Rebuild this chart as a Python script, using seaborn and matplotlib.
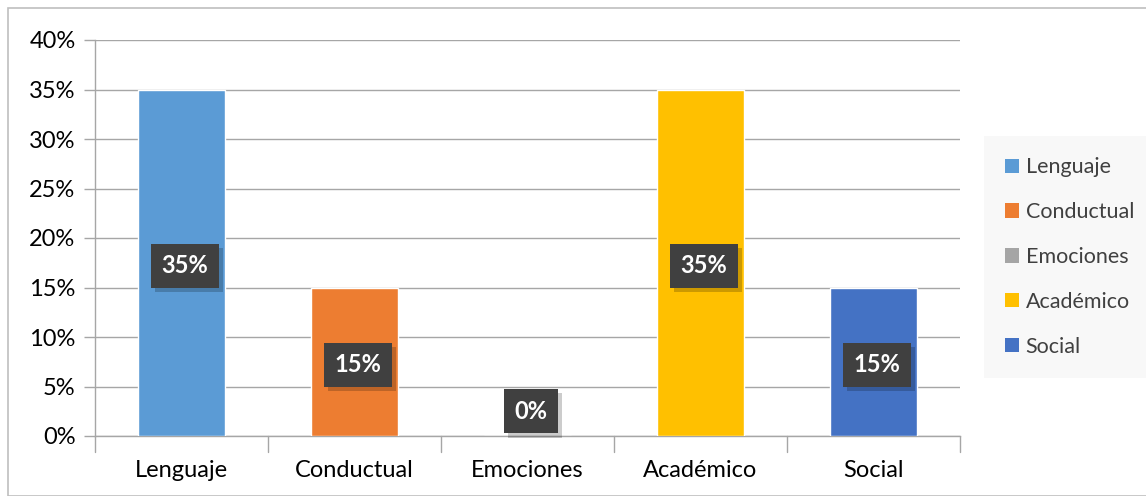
import numpy as np
import pandas as pd
import matplotlib.pyplot as plt
import matplotlib.patheffects as pe
import seaborn as sns
from matplotlib.patches import Rectangle, Patch

sns.set_theme(style="white")
plt.rcParams['font.family'] = ['Lato', 'DejaVu Sans']

categories = ['Lenguaje', 'Conductual', 'Emociones', 'Académico', 'Social']
values = [0.35, 0.15, 0.0, 0.35, 0.15]
colors = ['#5B9BD5', '#ED7D31', '#A5A5A5', '#FFC000', '#4472C4']
y_ticks = [0, 0.05, 0.10, 0.15, 0.20, 0.25, 0.30, 0.35, 0.40]

df = pd.DataFrame({'Categoria': categories, 'Valor': values})

fig = plt.figure(figsize=(11.46, 4.96), dpi=100)
ax = fig.add_axes([95 / 1146, 1 - 436 / 496, 865 / 1146, 396 / 496])

# outer chart border
fig.patches.append(Rectangle((8 / 1146, 0), 1.0, 1 - 8 / 496, transform=fig.transFigure,
                             fill=False, edgecolor='#BFBFBF', linewidth=1.2, zorder=0))

sns.barplot(data=df, x='Categoria', y='Valor', hue='Categoria', palette=colors,
            width=0.5, saturation=1, legend=False, ax=ax, zorder=3)

ax.set_ylim(0, 0.40)
ax.set_xlim(-0.5, 4.5)
ax.set_yticks(y_ticks)
ax.set_yticklabels([f'{int(round(t * 100))}%' for t in y_ticks], fontsize=17, color='#000000')
ax.yaxis.grid(True, color='#A6A6A6', linewidth=1, zorder=0)
ax.set_xlabel('')
ax.set_ylabel('')
ax.tick_params(axis='x', labelsize=17, colors='#000000', length=0, pad=17)
ax.tick_params(axis='y', length=8, color='#A6A6A6', width=1, pad=6, left=True)
for sp in ['top', 'right']:
    ax.spines[sp].set_visible(False)
for sp in ['left', 'bottom']:
    ax.spines[sp].set_color('#A6A6A6')
    ax.spines[sp].set_linewidth(1)

# category separator ticks on x axis
for xb in np.arange(-0.5, 5.0, 1.0):
    ax.plot([xb, xb], [0, -0.016], color='#A6A6A6', lw=1, clip_on=False, zorder=4)

# data labels: dark box with a soft shadow
for i, v in enumerate(values):
    ypos = max(v / 2, 0.028)
    t = ax.text(i + 0.02, ypos - 0.003, f'{int(round(v * 100))}%', ha='center', va='center',
                fontsize=17, fontweight='bold', color='#FFFFFF', zorder=5,
                bbox=dict(boxstyle='square,pad=0.45', facecolor='#404040', edgecolor='none'))
    t.get_bbox_patch().set_path_effects([
        pe.SimplePatchShadow(offset=(3, -3), shadow_rgbFace='#000000', alpha=0.2),
        pe.Normal()])

handles = [Patch(facecolor=c, edgecolor='none') for c in colors]
leg = fig.legend(handles, categories, loc='center left', bbox_to_anchor=(990 / 1146, 1 - 257 / 496),
                 frameon=True, fontsize=15.5, handlelength=0.65, handleheight=0.65,
                 handletextpad=0.3, labelspacing=1.15, borderpad=0.7, borderaxespad=0)
leg.get_frame().set_facecolor('#F7F7F7')
leg.get_frame().set_edgecolor('none')
leg.get_frame().set_boxstyle('square')
for t in leg.get_texts():
    t.set_color('#404040')

plt.savefig('out.png', dpi=100)
plt.close()
